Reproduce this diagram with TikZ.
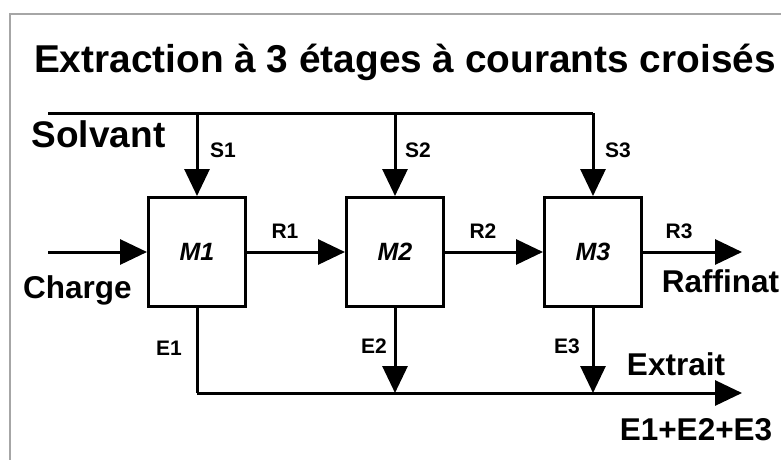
\documentclass[tikz,border=0pt]{standalone}
\usepackage{fontspec}
\setmainfont{Liberation Sans}
\usetikzlibrary{arrows.meta}
\begin{document}
\begin{tikzpicture}[x=1pt,y=-1pt,
  flow/.style={line width=3pt,-{Triangle[width=25pt,length=27pt]}},
  pipe/.style={line width=3pt},
  stage/.style={draw,line width=3pt,minimum width=97pt,minimum height=109pt,inner sep=0pt,
     font=\fontsize{25}{25}\selectfont\bfseries\itshape},
  big/.style={font=\fontsize{31.5}{32}\selectfont\bfseries,inner sep=0pt,anchor=base},
  small/.style={font=\fontsize{21}{22}\selectfont\bfseries,inner sep=0pt,anchor=base},
  ]
\useasboundingbox (0,0) rectangle (781,460);
\fill[white] (0,0) rectangle (781,460);
\begin{scope}
\clip (0,0) rectangle (781,460);
\draw[line width=2pt,gray!70] (10,14) rectangle (800,480);
\end{scope}
\node[font=\fontsize{38.8}{40}\selectfont\bfseries,inner sep=0pt,anchor=base] (title) at (405,73) {Extraction à 3 étages à courants croisés};
\node[font=\fontsize{37}{38}\selectfont\bfseries,inner sep=0pt,anchor=base] (solv) at (98.5,147) {Solvant};
% stages
\node[stage] (M1) at (197,252) {M1};
\node[stage] (M2) at (395,252) {M2};
\node[stage] (M3) at (593,252) {M3};
% coordinates
\coordinate (s0) at (48,113);
\coordinate (s3) at (593,113);
\coordinate (ch) at (48,252);
\coordinate (raf) at (742,252);
\coordinate (e1) at (197,393);
\coordinate (ex) at (742,393);
% solvent
\draw[pipe] (s0) -- (s3);
\draw[flow] (M1.north |- s0) -- (M1.north);
\draw[flow] (M2.north |- s0) -- (M2.north);
\draw[flow] (s3) -- (M3.north);
% charge and raffinate
\draw[flow] (ch) -- (M1.west);
\draw[flow] (M1.east) -- (M2.west);
\draw[flow] (M2.east) -- (M3.west);
\draw[flow] (M3.east) -- (raf);
% extract
\draw[pipe] (M1.south) -- (e1);
\draw[flow] (e1) -- (ex);
\draw[flow] (M2.south) -- (M2.south |- e1);
\draw[flow] (M3.south) -- (M3.south |- e1);
% labels
\node[small] (lS1) at (223,157) {S1};
\node[small] (lS2) at (418,157) {S2};
\node[small] (lS3) at (618,157) {S3};
\node[small] (lR1) at (285,238) {R1};
\node[small] (lR2) at (483,238) {R2};
\node[small] (lR3) at (679,238) {R3};
\node[small] (lE1) at (169,355) {E1};
\node[small] (lE2) at (374,353) {E2};
\node[small] (lE3) at (567,353) {E3};
\node[big] (lch) at (77.5,298) {Charge};
\node[big] (lraf) at (720.5,292) {Raffinat};
\node[big] (lext) at (676,375) {Extrait};
\node[big] (lsum) at (696,440) {E1+E2+E3};
\end{tikzpicture}
\end{document}
